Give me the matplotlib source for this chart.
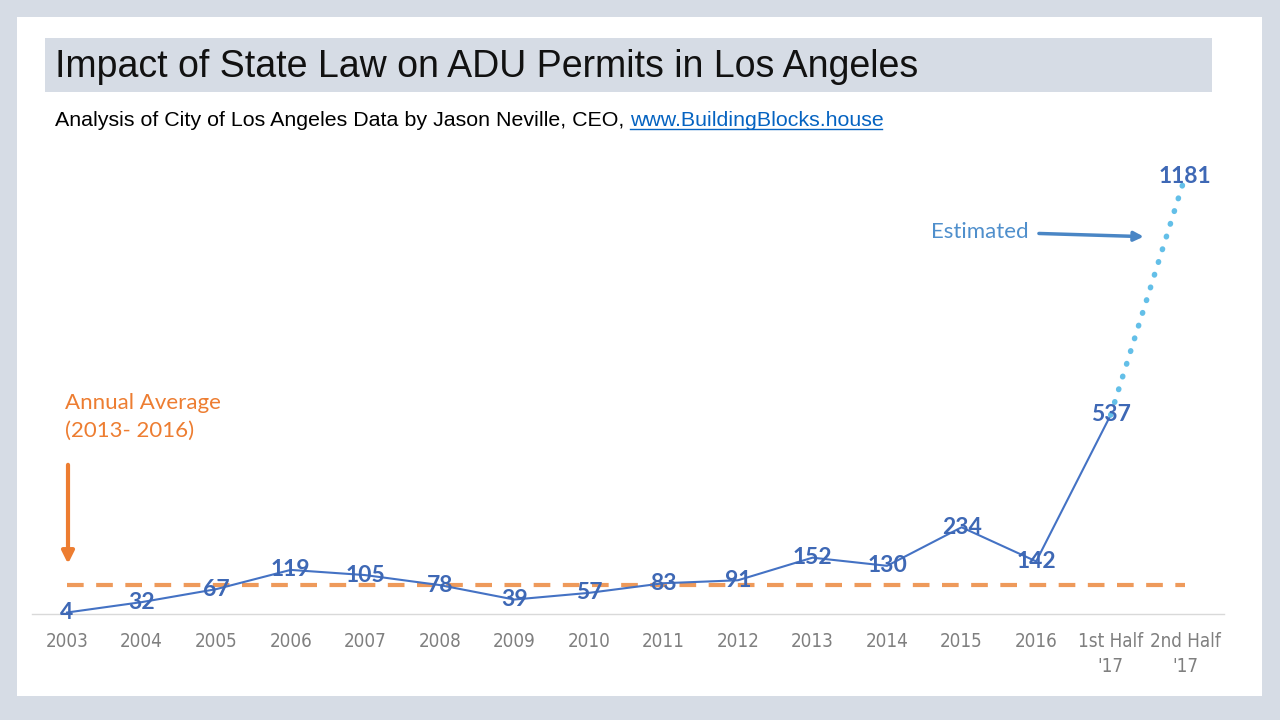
import matplotlib.pyplot as plt
import numpy as np

# data
categories = ['2003', '2004', '2005', '2006', '2007', '2008', '2009', '2010',
              '2011', '2012', '2013', '2014', '2015', '2016', "1st Half\n'17", "2nd Half\n'17"]
permits = [4, 32, 67, 119, 105, 78, 39, 57, 83, 91, 152, 130, 234, 142, 537, 1181]
average_line = 79

BG = '#d6dce5'
BLUE = '#4472c4'
LABEL_BLUE = '#3e68b5'
LIGHT_BLUE = '#63bfe8'
ORANGE = '#ed7d31'

fig = plt.figure(figsize=(12.8, 7.2), dpi=100)
fig.patch.set_facecolor(BG)

# white slide panel and title bar
fig.patches.append(plt.Rectangle((17 / 1280, 1 - 696 / 720), 1245 / 1280, 679 / 720,
                                 transform=fig.transFigure, facecolor='white', edgecolor='none', zorder=-3))
fig.patches.append(plt.Rectangle((45 / 1280, 1 - 92 / 720), 1167 / 1280, 54 / 720,
                                 transform=fig.transFigure, facecolor=BG, edgecolor='none', zorder=-2))

fig.text(55 / 1280, 1 - 67 / 720, 'Impact of State Law on ADU Permits in Los Angeles',
         fontsize=27, family='Liberation Sans', color='#111111', va='center', ha='left')
sub = fig.text(55 / 1280, 1 - 120 / 720, 'Analysis of City of Los Angeles Data by Jason Neville, CEO, ',
               fontsize=15.4, family='Liberation Sans', color='black', va='center', ha='left')

fig.canvas.draw()
r = fig.canvas.get_renderer()
bb = sub.get_window_extent(r)
link = fig.text(bb.x1 / 1280, 1 - 120 / 720, 'www.BuildingBlocks.house',
                fontsize=15.4, family='Liberation Sans', color='#0563c1', va='center', ha='left')
bl = link.get_window_extent(r)
fig.add_artist(plt.Line2D([bl.x0 / 1280, (bl.x1 - 2) / 1280], [(bl.y0 + 1) / 720] * 2,
                          transform=fig.transFigure, color='#0563c1', lw=1))

ax = fig.add_axes([32 / 1280, 1 - 614 / 720, 1192 / 1280, 464 / 720])
ax.set_facecolor('none')
x = np.arange(len(categories))

ax.set_xlim(-0.47, 15.52)
ax.set_ylim(0, 1252)

# average dashed line
ax.plot([x[0], x[-1]], [average_line, average_line], color='#ee9a5b', lw=3,
        dashes=(4, 3), zorder=2)

# actual line and estimate
ax.plot(x[:15], permits[:15], color=BLUE, lw=1.5, zorder=3)
ax.plot(x[14:], permits[14:], color=LIGHT_BLUE, lw=4, linestyle=(0, (0.1, 2.3)),
        dash_capstyle='round', zorder=3)

for xi, v in zip(x, permits):
    ax.text(xi, v, str(v), ha='center', va='center', fontsize=16.5, fontweight='bold',
            family='Lato', color=LABEL_BLUE, zorder=4)

# annotations
ax.text(12.9, 1032, 'Estimated', ha='right', va='center', fontsize=16,
        family='Lato', color='#4f8fcc')
ax.annotate('', xy=(14.48, 1018), xytext=(13.0, 1027),
            arrowprops=dict(arrowstyle='-|>', color='#4a86c5', lw=2.5, mutation_scale=14))

ax.text(-0.03, 532, 'Annual Average\n(2013- 2016)', ha='left', va='center', fontsize=16,
        family='Lato', color=ORANGE, linespacing=1.5)
ax.annotate('', xy=(0.013, 128), xytext=(0.013, 410),
            arrowprops=dict(arrowstyle='-|>', color=ORANGE, lw=3, mutation_scale=18))

for s in ['top', 'right', 'left']:
    ax.spines[s].set_visible(False)
ax.spines['bottom'].set_color('#d9d9d9')
ax.spines['bottom'].set_linewidth(1)
ax.set_yticks([])
ax.set_xticks(x)
ax.set_xticklabels(categories, fontsize=13.5, color='#7f7f7f', linespacing=1.4,
                   family='DejaVu Sans', fontstretch='condensed')
ax.tick_params(axis='x', length=0, pad=13)

fig.savefig('out.png', dpi=100, facecolor=BG)
